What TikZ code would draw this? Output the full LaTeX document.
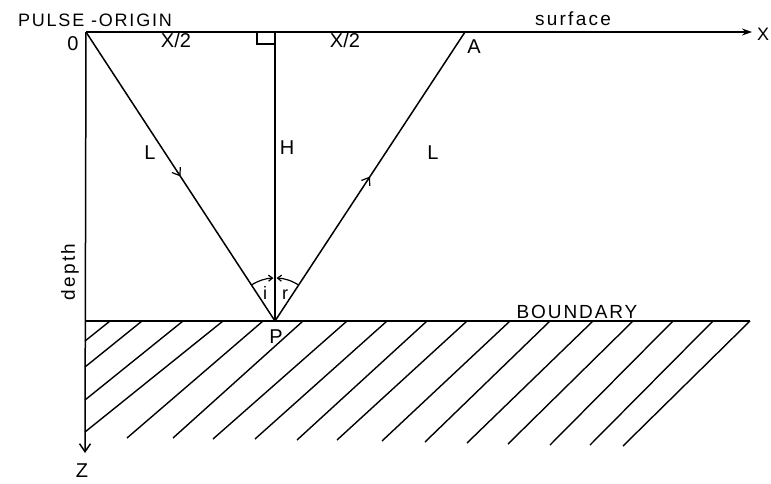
\documentclass[tikz,border=0pt]{standalone}
\usepackage{fontspec}
\setmainfont{Liberation Sans}
\usetikzlibrary{arrows.meta,decorations.markings}
\begin{document}
\begin{tikzpicture}[x=1pt,y=-1pt,
  lbl/.style={inner sep=0pt, anchor=base, font=\fontsize{20}{20}\selectfont},
  spaced/.style={font={\fontsize{#1}{#1}\selectfont\addfontfeature{LetterSpace=10}}},
  ln/.style={line width=1.5pt, black},
  hatchline/.style={line width=1.4pt, black},
  midarrow/.style={postaction={decorate},decoration={markings,mark=at position 0.5 with {\arrow{Straight Barb[length=7pt,width=10pt,line width=1.2pt]}}}}
]
\useasboundingbox (0,0) rectangle (771,483);
% key points
\coordinate (O) at (86,32);
\coordinate (F) at (275,32);
\coordinate (A) at (465,32);
\coordinate (Xend) at (752,32);
\coordinate (P) at (275,321);
\coordinate (Bl) at (85,321);
\coordinate (Br) at (750,321);
\coordinate (Zend) at (85,453);
% axes
\draw[ln, -{Stealth[open,length=10pt,width=7pt]}] (O) -- (Xend);
\draw[ln, -{Straight Barb[length=8pt,width=11pt]}] (O) -- (Zend);
% boundary
\draw[ln] (Bl) -- (Br);
% normal H
\draw[ln] (F) -- (P);
% right-angle mark
\draw[line width=1.3pt] (257,32) -- (257,44) -- (275,44);
% rays
\draw[ln, midarrow] (O) -- (P);
\draw[ln, midarrow] (P) -- (A);
% angle arcs
\draw[line width=1.2pt, -{Straight Barb[length=4pt,width=6pt]}] (P) ++(236.8:43) arc[start angle=236.8, end angle=268, radius=43];
\draw[line width=1.2pt, -{Straight Barb[length=4pt,width=6pt]}] (P) ++(303.3:43) arc[start angle=303.3, end angle=272, radius=43];
% hatching
\foreach \sx/\ex/\ey in {110/85/341, 142/85/367, 183/85/400, 223/85/432,
  263/127/438, 303/173/438, 347/213/439, 387/255/439, 427/297/440,
  467/337/440, 510/382/441, 550/425/442, 593/467/443, 633/508/444,
  673/550/445, 713/590/445, 750/623/446}
  \draw[hatchline] (\sx,321) -- (\ex,\ey);
% labels
\node[lbl, spaced=18] (tpulse) at (95,26) {PULSE -ORIGIN};
\node[lbl] (tO) at (73,50) {0};
\node[lbl] (tx1) at (176,47) {X/2};
\node[lbl] (tx2) at (345,47) {X/2};
\node[lbl, font={\fontsize{19}{19}\selectfont\addfontfeature{LetterSpace=12}}] (tsurf) at (573,25) {surface};
\node[lbl, font=\fontsize{18}{18}\selectfont] (tX) at (763,40) {X};
\node[lbl] (tA) at (474,53) {A};
\node[lbl] (tL1) at (150,159) {L};
\node[lbl] (tH) at (287,154) {H};
\node[lbl] (tL2) at (433,159) {L};
\node[lbl, font=\fontsize{18}{18}\selectfont] (ti) at (265,299) {i};
\node[lbl, font=\fontsize{18}{18}\selectfont] (tr) at (285,299) {r};
\node[lbl] (tP) at (276,343) {P};
\node[lbl, spaced=19] (tB) at (577,318) {BOUNDARY};
\node[lbl, font=\fontsize{20}{20}\selectfont] (tZ) at (82,477) {Z};
\node[inner sep=0pt, rotate=90, font={\fontsize{19}{19}\selectfont\addfontfeature{LetterSpace=12}}] (tdepth) at (70,272) {depth};
\end{tikzpicture}
\end{document}
